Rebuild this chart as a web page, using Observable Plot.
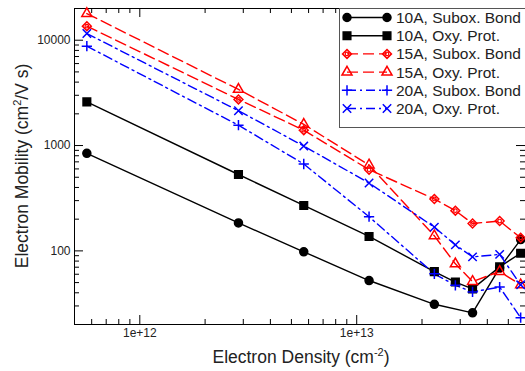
<!DOCTYPE html>
<html><head><meta charset="utf-8">
<script src="https://cdn.jsdelivr.net/npm/d3@7"></script>
<script src="https://cdn.jsdelivr.net/npm/@observablehq/plot@0.6"></script>
<style>
body{margin:0;background:#fff}
#chart{position:relative;width:525px;height:371px}
</style>
</head><body><div id="chart"></div>
<script>
// ---- data ----
const densities = [5.7e11, 2.85e12, 5.7e12, 1.14e13, 2.28e13, 2.85e13, 3.42e13, 4.56e13, 5.7e13];
const seriesNames = ["10A, Subox. Bond", "10A, Oxy. Prot.", "15A, Subox. Bond", "15A, Oxy. Prot.", "20A, Subox. Bond", "20A, Oxy. Prot."];
const mob10Subox = [843, 184, 98, 52.3, 31.1, null, 25.8, 69, 128];
const mob10Oxy   = [2600, 531, 270, 137, 63.6, 50.6, 43.6, 70.5, 95];
const mob15Subox = [13600, 2740, 1400, 590, 311, 241, 182, 192, 133];
const mob15Oxy   = [17900, 3410, 1590, 653, 139, 75.3, 51.2, 63.7, 47.6];
const mob20Subox = [8770, 1560, 668, 211, 60.5, 47.1, 40.8, 45.3, 23.2];
const mob20Oxy   = [11570, 2140, 989, 441, 168, 114, 87.7, 92.6, 47.6];
const xTickValues = [1e12, 1e13];
const xTickLabels = ["1e+12", "1e+13"];
const yTickValues = [100, 1000, 10000];
const yTickLabels = ["100", "1000", "10000"];

// ---- styles ----
const allSeries = [mob10Subox, mob10Oxy, mob15Subox, mob15Oxy, mob20Subox, mob20Oxy];
const styles = [
  {stroke: "black", dash: null, symbol: "circle", fill: "black", r: 4},
  {stroke: "black", dash: null, symbol: "square", fill: "black", r: 4.3},
  {stroke: "red", dash: "11,5", symbol: "diamond2", fill: "none", r: 4, inner: true},
  {stroke: "red", dash: "11,5", symbol: "triangle2", fill: "none", r: 4.8},
  {stroke: "blue", dash: "9,4,2,4", symbol: "plus", fill: "none", r: 3.4},
  {stroke: "blue", dash: "9,4,2,4", symbol: "times", fill: "none", r: 3.9}
];
const symbolMap = {circle: d3.symbolCircle, square: d3.symbolSquare, diamond2: d3.symbolDiamond2,
  triangle2: d3.symbolTriangle2, plus: d3.symbolPlus, times: d3.symbolTimes};

const tables = allSeries.map((vals, i) =>
  densities.map((x, j) => ({x, y: vals[j], series: seriesNames[i]})).filter(d => d.y != null));

// minor ticks
const minorX = [], minorY = [];
for (let e = 11; e <= 13; e++) for (let k = 2; k <= 9; k++) { const v = k * 10 ** e; if (v > 5e11 && v < 6e13) minorX.push(v); }
for (let e = 1; e <= 4; e++) for (let k = 2; k <= 9; k++) { const v = k * 10 ** e; if (v >= 20 && v <= 20000) minorY.push(v); }

const W = 525, H = 371, mL = 74, mR = 0, mT = 8, mB = 47;
const pH = H - mT - mB, pW = W - mL - mR;
const majLen = 9, minLen = 5;

const marks = [
  Plot.ruleX(xTickValues, {x: d => d, insetTop: pH - majLen, stroke: "black"}),
  Plot.ruleX(xTickValues, {x: d => d, insetBottom: pH - majLen, stroke: "black"}),
  Plot.ruleX(minorX, {x: d => d, insetTop: pH - minLen, stroke: "black"}),
  Plot.ruleX(minorX, {x: d => d, insetBottom: pH - minLen, stroke: "black"}),
  Plot.ruleY(yTickValues, {y: d => d, insetRight: pW - majLen, stroke: "black"}),
  Plot.ruleY(yTickValues, {y: d => d, insetLeft: pW - majLen, stroke: "black"}),
  Plot.ruleY(minorY, {y: d => d, insetRight: pW - minLen, stroke: "black"}),
  Plot.ruleY(minorY, {y: d => d, insetLeft: pW - minLen, stroke: "black"}),
  Plot.frame({stroke: "black"}),
  Plot.text(xTickValues, {x: d => d, text: (d, i) => xTickLabels[i], frameAnchor: "bottom", dy: 12, fontSize: 12, fill: "#222"}),
  Plot.text(yTickValues, {y: d => d, text: (d, i) => yTickLabels[i], frameAnchor: "left", dx: -4, textAnchor: "end", fontSize: 12, fill: "#222"})
];
tables.forEach((t, i) => {
  const s = styles[i];
  marks.push(Plot.line(t, {x: "x", y: "y", stroke: s.stroke, strokeWidth: 1.4, strokeDasharray: s.dash}));
});
tables.forEach((t, i) => {
  const s = styles[i];
  marks.push(Plot.dot(t, {x: "x", y: "y", symbol: s.symbol, r: s.r, fill: s.fill, stroke: s.stroke, strokeWidth: 1.5}));
  if (s.inner) marks.push(Plot.dot(t, {x: "x", y: "y", r: 1.8, fill: "none", stroke: s.stroke, strokeWidth: 1.2}));
});

const chart = Plot.plot({
  width: W, height: H, marginLeft: mL, marginRight: mR, marginTop: mT, marginBottom: mB,
  style: {fontFamily: "'Liberation Sans', Arial, Helvetica, sans-serif", background: "white", overflow: "visible"},
  x: {type: "log", domain: [5e11, 6e13], axis: null},
  y: {type: "log", domain: [20, 20000], axis: null},
  marks
});
document.getElementById("chart").appendChild(chart);

const svg = d3.select(chart);
const ff = "'Liberation Sans', Arial, Helvetica, sans-serif";
// axis titles
const xt = svg.append("text").attr("x", 301).attr("y", 363).attr("text-anchor", "middle")
  .attr("font-size", 17.5).attr("font-family", ff).attr("fill", "#222");
xt.append("tspan").text("Electron Density (cm");
xt.append("tspan").attr("font-size", 11).attr("dy", -7).text("-2");
xt.append("tspan").attr("dy", 7).text(")");
const yt = svg.append("text").attr("transform", "translate(28,166) rotate(-90)").attr("text-anchor", "middle")
  .attr("font-size", 17.5).attr("font-family", ff).attr("fill", "#222");
yt.append("tspan").text("Electron Mobility (cm");
yt.append("tspan").attr("font-size", 11).attr("dy", -7).text("2");
yt.append("tspan").attr("dy", 7).text("/V s)");

// legend
const lg = svg.append("g");
lg.append("rect").attr("x", 339.5).attr("y", 8.5).attr("width", 200).attr("height", 119)
  .attr("fill", "white").attr("stroke", "#555");
seriesNames.forEach((name, i) => {
  const s = styles[i];
  const y = 17.5 + i * 18.2;
  lg.append("line").attr("x1", 347).attr("x2", 387).attr("y1", y).attr("y2", y)
    .attr("stroke", s.stroke).attr("stroke-width", 1.4).attr("stroke-dasharray", s.dash);
  [347, 387].forEach(x => {
    lg.append("path").attr("transform", `translate(${x},${y})`)
      .attr("d", d3.symbol(symbolMap[s.symbol], s.r * s.r * Math.PI)())
      .attr("fill", s.fill).attr("stroke", s.stroke).attr("stroke-width", 1.5);
    if (s.inner) lg.append("circle").attr("cx", x).attr("cy", y).attr("r", 1.8)
      .attr("fill", "none").attr("stroke", s.stroke).attr("stroke-width", 1.2);
  });
  lg.append("text").attr("x", 396).attr("y", y + 5.5).attr("font-size", 15.5).attr("font-family", ff)
    .attr("text-anchor", "start").attr("fill", "#222").text(name);
});
</script>
</body></html>
